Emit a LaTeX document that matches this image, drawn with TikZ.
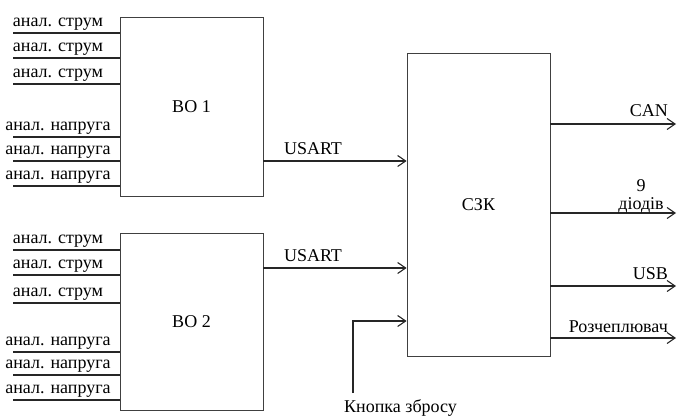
\documentclass[tikz,border=0pt]{standalone}
\usepackage{fontspec}
\setmainfont{Liberation Serif}
\usetikzlibrary{arrows.meta,positioning,calc}

\begin{document}
\begin{tikzpicture}[
    x=1pt, y=-1pt,
    font=\fontsize{18}{18}\selectfont,
    blok/.style={draw=black!75, line width=0.8pt, inner sep=0pt},
    wire/.style={draw=black!85, line width=1.1pt},
    sig/.style={wire, -{Straight Barb[length=8pt, width=11pt]}},
    lbl/.style={anchor=base, inner sep=0pt}
]
\useasboundingbox (0,0) rectangle (678,418);

% ---- blocks ----
\node[blok, minimum width=143pt, minimum height=179pt] (bo1) at (191.5,106.5) {ВО 1};
\node[blok, minimum width=143pt, minimum height=177pt] (bo2) at (191.5,321.5) {ВО 2};
\node[blok, minimum width=143pt, minimum height=303pt] (szk) at (478.5,204.5) {СЗК};

% ---- analog inputs ----
\foreach \y/\t [count=\i] in {33/струм, 58/струм, 84/струм,
                               137/напруга, 161/напруга, 186/напруга} {
  \coordinate (a\i) at (13,\y);
  \draw[wire] (a\i) -- (a\i -| bo1.west);
  \node[lbl] (la\i) at (58,\y-7) {анал. \t};
}
\foreach \y/\t [count=\i] in {250/струм, 275/струм, 303/струм,
                               352/напруга, 375/напруга, 400/напруга} {
  \coordinate (b\i) at (13,\y);
  \draw[wire] (b\i) -- (b\i -| bo2.west);
  \node[lbl] (lb\i) at (58,\y-7) {анал. \t};
}

% ---- USART links ----
\coordinate (u1) at (bo1.east |- 0,161);
\coordinate (u2) at (bo2.east |- 0,268);
\draw[sig] (u1) -- (u1 -| szk.west);
\draw[sig] (u2) -- (u2 -| szk.west);
\node[lbl] (lu1) at (313,154) {USART};
\node[lbl] (lu2) at (313,261) {USART};

% ---- reset button ----
\coordinate (rst) at (353,393);
\draw[sig] (rst) |- (szk.west |- 0,321);
\node[anchor=north west, inner sep=0pt] (knopka) at (344,399) {Кнопка збросу};

% ---- outputs ----
\foreach \y/\n in {124/can, 213/led, 286/usb, 338/roz} {
  \coordinate (o-\n) at (676,\y);
  \draw[sig] (o-\n -| szk.east) -- (o-\n);
}
\node[lbl, anchor=base east] (lcan) at (668,116) {CAN};
\node[align=center, anchor=south, inner sep=0pt] (lled) at (641,213) {9\\діодів};
\node[lbl, anchor=base east] (lusb) at (668,279) {USB};
\node[lbl, anchor=base east] (lroz) at (668,332) {Розчеплювач};

\end{tikzpicture}
\end{document}
